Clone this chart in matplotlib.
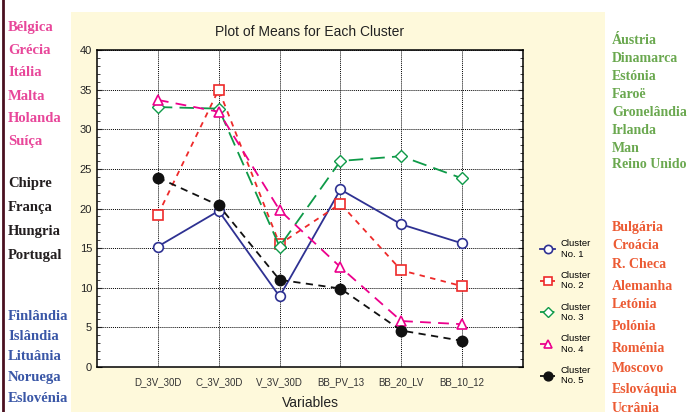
import matplotlib.pyplot as plt
from matplotlib.patches import Rectangle
from matplotlib.lines import Line2D

variables = ['D_3V_30D', 'C_3V_30D', 'V_3V_30D', 'BB_PV_13', 'BB_20_LV', 'BB_10_12']
cluster1 = [15.2, 19.7, 8.9, 22.4, 18.0, 15.6]
cluster2 = [19.2, 35.0, 15.5, 20.6, 12.2, 10.2]
cluster3 = [32.8, 32.6, 15.2, 26.0, 26.6, 23.8]
cluster4 = [33.7, 32.2, 19.8, 12.6, 5.8, 5.4]
cluster5 = [23.9, 20.4, 11.0, 9.9, 4.6, 3.3]

left_groups = [
    (['Bélgica', 'Grécia', 'Itália', 'Malta', 'Holanda', 'Suíça'], '#e8479a', [27, 50, 73, 96, 119, 141]),
    (['Chipre', 'França', 'Hungria', 'Portugal'], '#231f20', [184, 208, 232, 256]),
    (['Finlândia', 'Islândia', 'Lituânia', 'Noruega', 'Eslovénia', 'Suécia'], '#3a57a7', [316, 336, 356, 377, 398, 419]),
]
right_groups = [
    (['Áustria', 'Dinamarca', 'Estónia', 'Faroë', 'Gronelândia', 'Irlanda', 'Man', 'Reino Unido'],
     '#6aa84f', [41, 59, 77, 95, 113, 131, 149, 165]),
    (['Bulgária', 'Croácia', 'R. Checa', 'Alemanha', 'Letónia', 'Polónia', 'Roménia', 'Moscovo',
      'Eslováquia', 'Ucrânia'], '#ec5a33', [228, 246, 265, 286, 305, 326, 348, 368, 389, 409]),
]

plt.rcParams['font.family'] = 'Liberation Sans'

W, H = 687, 412
fig = plt.figure(figsize=(W / 100, H / 100), dpi=100)
fig.patch.set_facecolor('white')

# cream panel behind the chart
fig.patches.append(Rectangle((71 / W, 0), (605 - 71) / W, (H - 12) / H,
                             transform=fig.transFigure, facecolor='#fef9db', edgecolor='none', zorder=0))
fig.lines.append(Line2D([3 / W, 3 / W], [0, 1], transform=fig.transFigure, color='#4a1020', linewidth=2))

ax = fig.add_axes([97 / W, 1 - 367 / H, (523 - 97) / W, (367 - 50) / H])
ax.set_zorder(5)
ax.set_facecolor('white')
x = list(range(len(variables)))

ax.plot(x, cluster1, color='#2e3192', linestyle='-', linewidth=1.3, marker='o', markersize=7,
        markerfacecolor='white', markeredgewidth=1.2, label='Cluster\nNo. 1')
ax.plot(x, cluster2, color='#ee2a2a', linestyle=(0, (3, 3)), linewidth=1.3, marker='s', markersize=7,
        markerfacecolor='white', markeredgewidth=1.2, label='Cluster\nNo. 2')
ax.plot(x, cluster3, color='#0e9a48', linestyle=(0, (8, 4)), linewidth=1.3, marker='D', markersize=6,
        markerfacecolor='white', markeredgewidth=1.0, label='Cluster\nNo. 3')
ax.plot(x, cluster4, color='#ec008c', linestyle=(0, (6, 4)), linewidth=1.3, marker='^', markersize=7,
        markerfacecolor='white', markeredgewidth=1.2, label='Cluster\nNo. 4')
ax.plot(x, cluster5, color='#111111', linestyle=(0, (4, 3)), linewidth=1.3, marker='o', markersize=7.5,
        markerfacecolor='#111111', label='Cluster\nNo. 5')

ax.set_xlim(-1, 6)
ax.set_ylim(0, 40)
ax.set_xticks(x)
ax.set_xticklabels(variables, fontsize=7, color='#333333')
ax.set_yticks(range(0, 41, 5))
ax.set_yticks(range(0, 41, 1), minor=True)
ax.tick_params(axis='y', labelsize=8, colors='#222222', right=True, which='both', direction='in')
ax.tick_params(axis='x', length=0, pad=7)
ax.grid(True, color='black', linestyle=(0, (1, 1)), linewidth=0.7)
for s in ax.spines.values():
    s.set_linewidth(1.1)

ax.set_title('Plot of Means for Each Cluster', fontsize=10, color='#222222', pad=10)
ax.set_xlabel('Variables', fontsize=10, color='#222222', labelpad=7)

ax.legend(loc='upper left', bbox_to_anchor=(1.02, 0.43), frameon=False, fontsize=6.8,
          handlelength=1.6, labelspacing=1.3, markerscale=0.85, handletextpad=0.6)

for groups, xpos, fs in [(left_groups, 8, 10.5), (right_groups, 612, 10)]:
    for names, color, ys in groups:
        for name, yy in zip(names, ys):
            fig.text(xpos / W, 1 - yy / H, name, color=color, fontsize=fs, fontweight='bold',
                     family='Liberation Serif', va='center', ha='left')

fig.savefig('out.png', dpi=100)
